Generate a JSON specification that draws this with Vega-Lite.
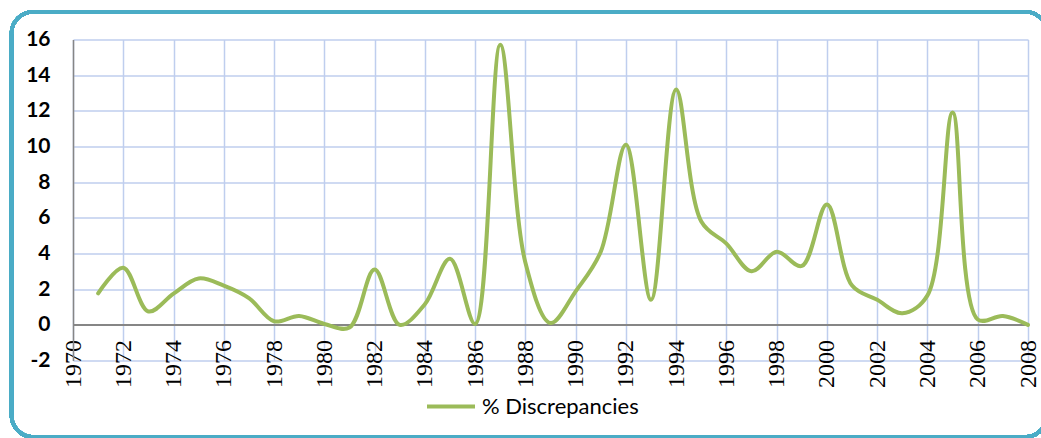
{
  "$schema": "https://vega.github.io/schema/vega-lite/v6.json",
  "width": 955,
  "height": 321,
  "autosize": {"type": "none"},
  "padding": {"left": 73, "top": 39.5, "right": 13, "bottom": 77.5},
  "background": "white",
  "config": {
    "view": {"stroke": null},
    "axis": {
      "labelColor": "#000000",
      "ticks": false,
      "grid": true,
      "gridColor": "#BFCEEE",
      "gridWidth": 1.5,
      "title": null
    },
    "axisX": {
      "labelAngle": 270,
      "labelAlign": "right",
      "labelBaseline": "middle",
      "labelFlush": false,
      "labelOverlap": false,
      "labelFont": "Liberation Serif",
      "labelFontSize": 24,
      "labelPadding": -21,
      "tickCount": 40,
      "domain": false
    },
    "axisY": {
      "labelAngle": 0,
      "labelAlign": "right",
      "labelBaseline": "middle",
      "labelOverlap": false,
      "labelBound": false,
      "labelFlush": false,
      "labelFont": "Lato",
      "labelFontWeight": "bold",
      "labelFontSize": 21,
      "labelPadding": 23,
      "tickCount": 20,
      "domainColor": "#868686",
      "domainWidth": 1.5
    }
  },
  "data": {
    "values": [
      {"year": 1971, "pct": 1.76},
      {"year": 1972, "pct": 3.2},
      {"year": 1973, "pct": 0.75},
      {"year": 1974, "pct": 1.75},
      {"year": 1975, "pct": 2.6},
      {"year": 1976, "pct": 2.2},
      {"year": 1977, "pct": 1.5},
      {"year": 1978, "pct": 0.2},
      {"year": 1979, "pct": 0.5},
      {"year": 1980, "pct": 0.05},
      {"year": 1981, "pct": -0.15},
      {"year": 1982, "pct": 3.1},
      {"year": 1983, "pct": 0.0},
      {"year": 1984, "pct": 1.15},
      {"year": 1985, "pct": 3.7},
      {"year": 1986, "pct": 0.05},
      {"year": 1987, "pct": 15.7},
      {"year": 1988, "pct": 3.5},
      {"year": 1989, "pct": 0.1},
      {"year": 1990, "pct": 1.88},
      {"year": 1991, "pct": 4.1},
      {"year": 1992, "pct": 10.1},
      {"year": 1993, "pct": 1.4},
      {"year": 1994, "pct": 13.2},
      {"year": 1995, "pct": 5.8},
      {"year": 1996, "pct": 4.55},
      {"year": 1997, "pct": 3.0},
      {"year": 1998, "pct": 4.1},
      {"year": 1999, "pct": 3.3},
      {"year": 2000, "pct": 6.75},
      {"year": 2001, "pct": 2.2},
      {"year": 2002, "pct": 1.4},
      {"year": 2003, "pct": 0.65},
      {"year": 2004, "pct": 1.65},
      {"year": 2005, "pct": 11.9},
      {"year": 2006, "pct": 0.3},
      {"year": 2007, "pct": 0.5},
      {"year": 2008, "pct": 0.0}
    ]
  },
  "layer": [
    {
      "mark": {"type": "rect", "fill": null, "stroke": "#4BACC6", "strokeWidth": 3.5, "cornerRadius": 22, "clip": false},
      "encoding": {
        "x": {
          "datum": 1967.55, "type": "quantitative",
          "scale": {"domain": [1970, 2008], "nice": false, "zero": false},
          "axis": {"values": [1970, 1972, 1974, 1976, 1978, 1980, 1982, 1984, 1986, 1988, 1990, 1992, 1994, 1996, 1998, 2000, 2002, 2004, 2006, 2008], "format": "d", "tickCount": 40}
        },
        "x2": {"datum": 2008.76},
        "y": {
          "datum": 17.56, "type": "quantitative",
          "scale": {"domain": [-2, 16], "nice": false, "zero": false},
          "axis": {"values": [-2, 0, 2, 4, 6, 8, 10, 12, 14, 16], "labelExpr": "toString(datum.value)", "tickCount": 20, "labelOverlap": false}
        },
        "y2": {"datum": -6.29}
      }
    },
    {
      "mark": {"type": "rule", "color": "#868686", "strokeWidth": 1.5},
      "encoding": {"y": {"datum": 0, "type": "quantitative"}}
    },
    {
      "mark": {"type": "line", "interpolate": "catmull-rom", "strokeWidth": 4, "strokeCap": "round", "strokeJoin": "round"},
      "encoding": {
        "x": {"field": "year", "type": "quantitative"},
        "y": {"field": "pct", "type": "quantitative"},
        "color": {
          "datum": "% Discrepancies",
          "scale": {"range": ["#9BBB59"]},
          "legend": {
            "title": null,
            "orient": "none",
            "legendX": 352,
            "legendY": 341,
            "symbolType": "stroke",
            "symbolSize": 2304,
            "symbolStrokeWidth": 4,
            "labelFont": "Lato",
            "labelFontSize": 22,
            "labelColor": "#000000",
            "labelOffset": 5
          }
        }
      }
    }
  ]
}
